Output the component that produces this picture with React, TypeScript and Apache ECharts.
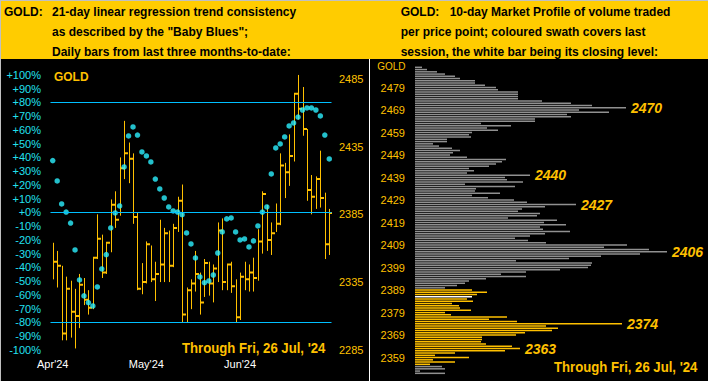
import React, { useEffect, useRef } from 'react';
import * as echarts from 'echarts';

// ---------- Left panel data (daily bars, price) ----------
const barHigh = [2364, 2358, 2347, 2339, 2336, 2330, 2341, 2338, 2329, 2353, 2385, 2370, 2364, 2396, 2402, 2427, 2454, 2438, 2430, 2386, 2349, 2365, 2362, 2350, 2381, 2375, 2373, 2378, 2398, 2407, 2331, 2337, 2358, 2342, 2352, 2350, 2348, 2379, 2382, 2348, 2350, 2337, 2342, 2350, 2348, 2353, 2374, 2402, 2392, 2379, 2393, 2430, 2423, 2444, 2474, 2488, 2479, 2448, 2414, 2413, 2432, 2401, 2389];
const barLow = [2337, 2331, 2292, 2292, 2294, 2286, 2301, 2318, 2311, 2315, 2352, 2338, 2341, 2357, 2375, 2384, 2411, 2408, 2378, 2329, 2326, 2334, 2335, 2321, 2335, 2335, 2335, 2346, 2372, 2305, 2305, 2315, 2328, 2311, 2324, 2325, 2320, 2335, 2329, 2329, 2327, 2305, 2307, 2329, 2328, 2328, 2336, 2356, 2358, 2355, 2372, 2377, 2397, 2406, 2424, 2455, 2443, 2395, 2385, 2389, 2390, 2352, 2355];
const barClose = [2350, 2347, 2297, 2330, 2313, 2310, 2333, 2322, 2316, 2353, 2367, 2342, 2364, 2392, 2381, 2419, 2430, 2426, 2383, 2330, 2335, 2363, 2337, 2341, 2348, 2371, 2347, 2375, 2395, 2311, 2329, 2334, 2341, 2320, 2349, 2334, 2345, 2373, 2335, 2348, 2332, 2309, 2339, 2337, 2342, 2338, 2365, 2400, 2366, 2371, 2378, 2421, 2416, 2428, 2474, 2463, 2448, 2403, 2398, 2411, 2397, 2363, 2386];
// "Baby Blues" trend consistency (%)
const babyBlues = [37.6, 22.8, 6.1, 0.2, -7.8, -27.4, -49.2, -60.8, -65.7, -68.1, -54.3, -41.2, -30.8, -11.4, -0.5, 4.6, 33.0, 55.5, 62.1, 56.2, 43.9, 41.0, 36.6, 24.2, 17.0, 10.4, 3.9, 1.0, 0.2, -1.7, -15.0, -23.0, -33.2, -47.0, -51.2, -49.9, -45.6, -29.6, -14.3, -4.8, -4.1, -14.3, -20.1, -19.4, -25.2, -20.8, -9.9, 0.2, 3.9, 27.9, 46.8, 49.7, 54.8, 62.8, 65.0, 69.3, 74.4, 75.9, 75.9, 74.4, 70.1, 56.2, 38.8];
const refLevels = [80, 0, -80];
const monthNames = ["Apr'24", "May'24", "Jun'24"];
const monthStartIdx = [0, 21, 42];
const pctTicks = { min: -100, max: 100, step: 10 };
const priceTicks = { min: 2285, max: 2488, step: 50 };

// ---------- Right panel data (10-day market profile) ----------
const profileTopPrice = 2488;
const profileVolume = [
  7, 12, 22, 30, 40, 45, 60, 60, 70, 81,
  83, 103, 103, 103, 103, 127, 156, 177, 211, 164,
  194, 152, 156, 120, 120, 66, 96, 72, 83, 57,
  54, 56, 32, 32, 18, 24, 37, 45, 38, 35,
  52, 91, 87, 81, 74, 54, 59, 52, 115, 90,
  92, 108, 50, 100, 61, 60, 85, 57, 73, 99,
  112, 161, 130, 107, 103, 125, 122, 93, 142, 129,
  151, 125, 128, 155, 130, 115, 100, 113, 131, 212,
  189, 234, 252, 225, 186, 154, 101, 177, 176, 173,
  145, 111, 86, 111, 71, 54, 50, 42, 30, 57,
  72, 62, 57, 52, 58, 37, 44, 45, 56, 30,
  36, 92, 74, 102, 207, 131, 143, 137, 110, 101,
  67, 67, 66, 71, 97, 105, 90, 40, 20, 54,
  18, 40, 15, 27, 30, 5, 30,
];
const sessionLow = 2356;
const sessionHigh = 2389;
const sessionClose = 2386;
const peakLevels = [2470, 2440, 2427, 2406, 2374, 2363];

// ---------- styles ----------
const GOLD = '#FFC000';
const CYAN_DOT = '#2CF0FF';
const CYAN_LINE = '#00BFFF';
const CYAN_TXT = '#22E0F0';
const GREY_BAR = '#909090';
const FONT = '"Liberation Sans", Arial, sans-serif';

const txt = (x: number, y: number, text: string, font: string, fill: string, align = 'left', extra: any = {}) => ({
  type: 'text',
  x,
  y,
  silent: true,
  style: { text, font, fill, textAlign: align, textVerticalAlign: 'middle' },
  ...extra,
});

export default function App() {
  const ref = useRef<HTMLDivElement>(null);

  useEffect(() => {
    document.body.style.margin = '0';
    const chart = echarts.init(ref.current!, null, { renderer: 'svg' });

    const dayCats = barHigh.map((_, i) => String(i));
    const ohlc = barHigh.map((h, i) => [i, h, barLow[i], barClose[i]]);
    const profilePrices = profileVolume.map((_, k) => profileTopPrice - k);

    const profileData = profileVolume.map((v, k) => {
      const p = profilePrices[k];
      let color = GREY_BAR;
      if (p >= sessionLow && p <= sessionHigh) color = GOLD;
      if (p === sessionClose) color = '#FFFFFF';
      const item: any = { value: v, itemStyle: { color } };
      if (peakLevels.includes(p)) {
        item.label = {
          show: true,
          position: 'right',
          distance: 5,
          formatter: String(p),
          color: GOLD,
          fontSize: 14,
          fontWeight: 'bold',
          fontStyle: 'italic',
          fontFamily: FONT,
        };
      }
      return item;
    });

    const hdr = `bold 12px ${FONT}`;

    const option: any = {
      animation: false,
      backgroundColor: '#000000',
      grid: [
        { left: 50.5, right: 376.5, top: 74.8, height: 275 },
        { left: 415, right: 0, top: 66.2, height: 308.25 },
      ],
      xAxis: [
        {
          gridIndex: 0,
          type: 'category',
          data: dayCats,
          boundaryGap: true,
          axisLine: { show: false },
          axisTick: { show: false },
          axisLabel: {
            interval: 0,
            margin: 9,
            color: '#FFFFFF',
            fontSize: 11,
            fontFamily: FONT,
            formatter: (_v: string, idx: number) => {
              const m = monthStartIdx.indexOf(idx);
              return m >= 0 ? monthNames[m] : '';
            },
          },
          splitLine: { show: false },
        },
        { gridIndex: 1, type: 'value', min: 0, max: 293, show: false },
      ],
      yAxis: [
        {
          gridIndex: 0,
          type: 'value',
          position: 'left',
          min: pctTicks.min,
          max: pctTicks.max,
          interval: pctTicks.step,
          axisLine: { show: false },
          axisTick: { show: false },
          splitLine: { show: false },
          axisLabel: {
            margin: 9.5,
            color: CYAN_TXT,
            fontSize: 11,
            fontFamily: FONT,
            formatter: (v: number) => (v >= 0 ? `+${v}%` : `${v}%`),
          },
        },
        {
          gridIndex: 0,
          type: 'value',
          position: 'right',
          min: priceTicks.min,
          max: priceTicks.max,
          interval: priceTicks.step,
          axisLine: { show: false },
          axisTick: { show: false },
          splitLine: { show: false },
          axisLabel: {
            margin: 7.5,
            color: GOLD,
            fontSize: 11,
            fontFamily: FONT,
            formatter: (v: number) => ((Math.round(v) - priceTicks.min) % priceTicks.step === 0 ? String(Math.round(v)) : ''),
          },
        },
        {
          gridIndex: 1,
          type: 'category',
          inverse: true,
          data: profilePrices.map(String),
          axisLine: { show: false },
          axisTick: { show: false },
          axisLabel: {
            interval: 0,
            margin: 10,
            color: GOLD,
            fontSize: 11,
            fontFamily: FONT,
            formatter: (v: string) => ((Number(v) - 2359) % 10 === 0 ? v : ''),
          },
        },
      ],
      series: [
        {
          type: 'custom',
          xAxisIndex: 0,
          yAxisIndex: 1,
          data: ohlc,
          encode: { x: 0, y: [1, 2, 3] },
          clip: true,
          renderItem: (_params: any, api: any) => {
            const i = api.value(0);
            const pH = api.coord([i, api.value(1)]);
            const pL = api.coord([i, api.value(2)]);
            const pC = api.coord([i, api.value(3)]);
            const x = Math.round(pH[0]) + 0.5;
            return {
              type: 'group',
              children: [
                { type: 'line', shape: { x1: x, y1: pH[1], x2: x, y2: pL[1] }, style: { stroke: GOLD, lineWidth: 1 } },
                { type: 'line', shape: { x1: x - 0.5, y1: pC[1], x2: x + 3.5, y2: pC[1] }, style: { stroke: GOLD, lineWidth: 2 } },
              ],
            };
          },
        },
        {
          type: 'scatter',
          xAxisIndex: 0,
          yAxisIndex: 0,
          data: babyBlues,
          symbol: 'circle',
          symbolSize: 5.5,
          itemStyle: { color: CYAN_DOT },
          z: 3,
          markLine: {
            silent: true,
            symbol: 'none',
            label: { show: false },
            lineStyle: { color: CYAN_LINE, width: 1, type: 'solid' },
            data: refLevels.map((v) => ({ yAxis: v })),
          },
        },
        {
          type: 'bar',
          xAxisIndex: 1,
          yAxisIndex: 2,
          data: profileData,
          barWidth: 1.5,
        },
      ],
      graphic: [
        { type: 'rect', shape: { x: 0, y: 0, width: 708, height: 59 }, style: { fill: '#FFCC00' }, silent: true },
        { type: 'rect', shape: { x: 0, y: 0, width: 708, height: 1 }, style: { fill: '#C0C0C0' }, silent: true },
        { type: 'rect', shape: { x: 0, y: 0, width: 1, height: 381 }, style: { fill: '#C0C0C0' }, silent: true },
        { type: 'line', shape: { x1: 369.5, y1: 59, x2: 369.5, y2: 381 }, style: { stroke: '#FFFFFF', lineWidth: 1 }, silent: true },
        txt(4, 12, 'GOLD:', hdr, '#000'),
        txt(52, 12, '21-day linear regression trend consistency', hdr, '#000'),
        txt(52, 32, 'as described by the "Baby Blues";', hdr, '#000'),
        txt(52, 51.5, 'Daily bars from last three months-to-date:', hdr, '#000'),
        txt(400.7, 12, 'GOLD:', hdr, '#000'),
        txt(449.7, 12, '10-day Market Profile of volume traded', hdr, '#000'),
        txt(400.7, 32, 'per price point; coloured swath covers last', hdr, '#000'),
        txt(400.7, 51.5, 'session, the white bar being its closing level:', hdr, '#000'),
        txt(54, 76.5, 'GOLD', `bold 13px ${FONT}`, GOLD, 'left', { scaleX: 0.92 }),
        txt(405.5, 66, 'GOLD', `10px ${FONT}`, GOLD, 'right'),
        txt(182, 348, "Through Fri, 26 Jul, '24", `bold 14px ${FONT}`, GOLD, 'left', { scaleX: 0.94 }),
        txt(554, 367.5, "Through Fri, 26 Jul, '24", `bold 14px ${FONT}`, GOLD, 'left', { scaleX: 0.94 }),
      ],
    };

    chart.setOption(option);
    return () => chart.dispose();
  }, []);

  return <div ref={ref} style={{ width: 708, height: 381 }} />;
}
